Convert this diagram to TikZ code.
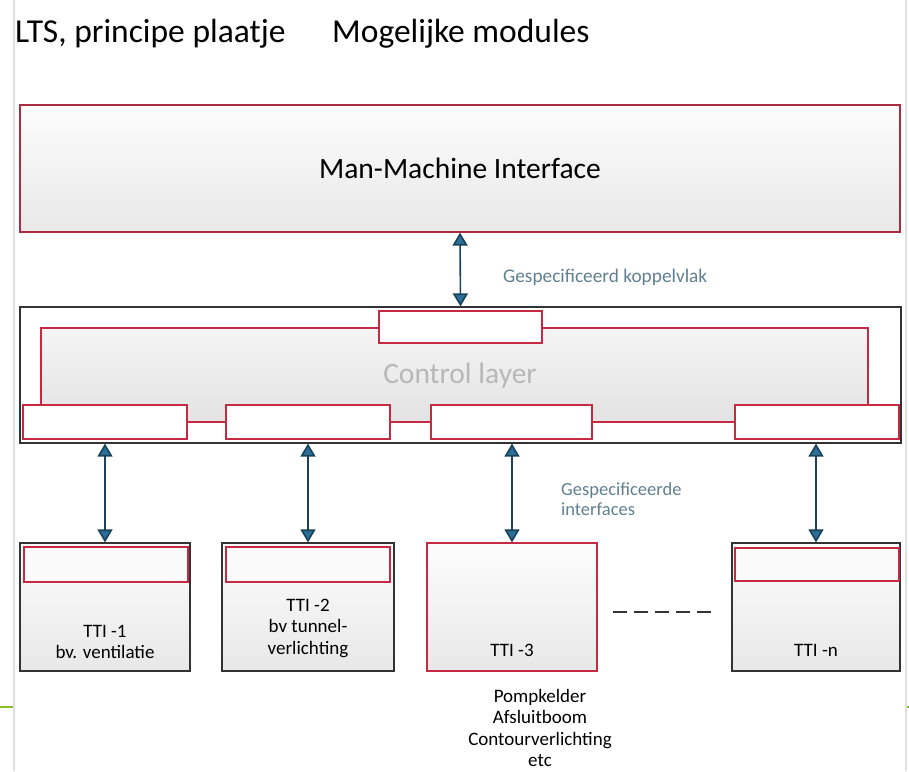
\documentclass[tikz,border=0pt]{standalone}
\usepackage{fontspec}
\setmainfont{Carlito}
\usepackage{tikz}
\usetikzlibrary{arrows.meta}

\definecolor{boxred}{RGB}{196,42,66}
\definecolor{mmired}{RGB}{170,44,62}
\definecolor{linkblue}{RGB}{44,110,150}
\definecolor{labelblue}{RGB}{96,128,146}
\definecolor{slidegreen}{RGB}{140,190,40}

\tikzset{
  module/.style={draw=black!80, line width=1.2pt, top color=black!1, bottom color=black!9, inner sep=0pt},
  redmodule/.style={module, draw=boxred},
  port/.style={draw=boxred, line width=1.4pt, fill=white, inner sep=0pt},
  link/.style={draw=linkblue!60!black, line width=1.6pt, {Triangle[width=15pt,length=13pt,fill=linkblue]}-{Triangle[width=15pt,length=13pt,fill=linkblue]}},
  note/.style={text=labelblue, font=\fontsize{18.5}{19.5}\selectfont, align=left, anchor=west, inner sep=0pt},
  tti/.style={font=\fontsize{19}{21.5}\selectfont, align=center, inner sep=0pt}
}

\begin{document}
\begin{tikzpicture}[x=1pt,y=-1pt]
  \useasboundingbox (0,0) rectangle (909,771);
  % slide edges
  \draw[black!12, line width=1.5pt] (14,0) -- (14,771) (906,0) -- (906,771);
  \draw[slidegreen, line width=2.5pt] (0,707) -- (13,707) (907,707) -- (909,707);

  % titles
  \node[anchor=base west, inner sep=0pt, font=\fontsize{33.5}{38}\selectfont] (title) at (15,42) {LTS, principe plaatje};
  \node[anchor=base west, inner sep=0pt, font=\fontsize{33.5}{38}\selectfont] (sub) at (332,42) {Mogelijke modules};

  % man-machine interface
  \node[module, draw=mmired, minimum width=880pt, minimum height=127pt, font=\fontsize{29.5}{34}\selectfont] (mmi) at (460,168.5) {Man-Machine Interface};

  % control layer
  \node[draw=black!80, line width=1.2pt, fill=white, minimum width=881pt, minimum height=136pt] (cl) at (460.5,375) {};
  \node[draw=boxred, line width=1.4pt, top color=black!4, bottom color=black!11, minimum width=827pt, minimum height=94pt] (bus) at (454.5,375) {};
  \node[text=black!28, font=\fontsize{29.5}{34}\selectfont] (cltext) at (460,376) {Control layer};
  \node[port, minimum width=163pt, minimum height=32pt] (p0) at (460.5,327) {};
  \node[port, minimum width=164pt, minimum height=34pt] (p1) at (105,422) {};
  \node[port, minimum width=164pt, minimum height=34pt] (p2) at (308,422) {};
  \node[port, minimum width=161pt, minimum height=34pt] (p3) at (511.5,422) {};
  \node[port, minimum width=164pt, minimum height=34pt] (p4) at (817,422) {};

  % TTI modules
  \node[module, minimum width=170pt, minimum height=128pt] (t1) at (105,607) {};
  \node[module, minimum width=172pt, minimum height=128pt] (t2) at (308,607) {};
  \node[redmodule, minimum width=170pt, minimum height=128pt] (t3) at (512,607) {};
  \node[module, minimum width=168pt, minimum height=128pt] (tn) at (816,607) {};
  \node[port, fill=black!2, minimum width=164pt, minimum height=35pt] (q1) at (106,564.5) {};
  \node[port, fill=black!2, minimum width=164pt, minimum height=35pt] (q2) at (308,564.5) {};
  \node[port, fill=black!2, minimum width=164pt, minimum height=33pt] (qn) at (817,564.5) {};

  \node[tti] (t1text) at (105,642) {TTI -1\\bv. ventilatie};
  \node[tti] (t2text) at (308,628) {TTI -2\\bv tunnel-\\verlichting};
  \node[tti] (t3text) at (512,650) {TTI -3};
  \node[tti] (tntext) at (816,650) {TTI -n};
  \node[tti] (t3list) at (540,728) {Pompkelder\\Afsluitboom\\Contourverlichting\\etc};

  % interfaces
  \draw[link] (mmi.south) -- (cl.north);
  \draw[link] (t1.north |- cl.south) -- (t1.north);
  \draw[link] (t2.north |- cl.south) -- (t2.north);
  \draw[link] (t3.north |- cl.south) -- (t3.north);
  \draw[link] (tn.north |- cl.south) -- (tn.north);
  \node[note, font=\fontsize{19.3}{20}\selectfont] (n1) at (503,277) {Gespecificeerd koppelvlak};
  \node[note] (n2) at (561,499) {Gespecificeerde\\interfaces};

  \draw[black!80, line width=1.5pt, dash pattern=on 14pt off 7pt] (613,612) -- (713,612);
\end{tikzpicture}
\end{document}
